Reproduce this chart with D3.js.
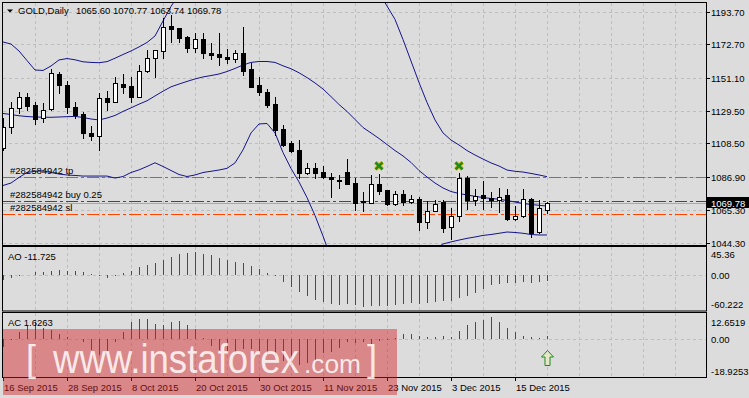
<!DOCTYPE html>
<html lang="en">
<head>
<meta charset="UTF-8">
<title>GOLD,Daily</title>
<script src="https://cdnjs.cloudflare.com/ajax/libs/d3/7.8.5/d3.min.js"></script>
<style>
    * { margin: 0; padding: 0; box-sizing: border-box; }
    body { background: #dcdcdc; width: 749px; height: 398px; overflow: hidden; }
    svg { display: block; }
    text { font-family: "Liberation Sans", Arial, sans-serif; font-size: 9.5px; fill: #000; }
</style>
</head>
<body>
<svg id="chart" width="749" height="398"></svg>
<script>
    // ---- data ----
    const symbol = "GOLD,Daily";
    const opens = [1105.36, 1119.33, 1131.23, 1138.73, 1133.17, 1124.76, 1130.58, 1153.41, 1146.30, 1132.26,
        1127.54, 1115.45, 1113.51, 1137.69, 1135.50, 1146.94, 1145.65, 1138.73, 1155.35, 1163.56,
        1168.48, 1184.46, 1182.97, 1177.54, 1170.42, 1176.05, 1167.19, 1166.15, 1164.21, 1162.91,
        1166.80, 1156.45, 1146.30, 1141.96, 1133.99, 1117.64, 1108.59, 1104.26, 1089.57, 1092.42,
        1090.22, 1086.99, 1084.86, 1090.22, 1083.11, 1071.30, 1070.18, 1082.07, 1078.39, 1069.33,
        1075.80, 1070.82, 1072.37, 1057.89, 1065.00, 1070.63, 1054.26, 1061.76, 1085.95, 1071.92,
        1075.16, 1073.02, 1071.92, 1075.15, 1059.83, 1061.25, 1072.43, 1051.42, 1065.60];
    const highs = [1124.76, 1135.50, 1141.96, 1140.93, 1135.50, 1134.46, 1156.64, 1154.50, 1148.88, 1135.50,
        1128.80, 1119.78, 1141.31, 1142.61, 1151.27, 1153.41, 1151.27, 1159.23, 1168.93, 1169.20,
        1189.43, 1191.57, 1183.20, 1177.80, 1180.12, 1179.73, 1173.27, 1179.73, 1169.38, 1168.93,
        1184.00, 1160.33, 1151.66, 1143.52, 1138.34, 1120.43, 1110.27, 1110.72, 1096.04, 1095.65,
        1093.91, 1089.57, 1088.09, 1098.24, 1085.95, 1077.29, 1088.00, 1088.54, 1078.60, 1077.50,
        1078.40, 1075.15, 1074.05, 1071.27, 1071.92, 1071.92, 1066.55, 1089.57, 1087.44, 1079.03,
        1084.20, 1077.29, 1079.48, 1078.71, 1068.04, 1078.84, 1073.21, 1071.92, 1070.77];
    const lows = [1104.26, 1115.45, 1127.99, 1130.13, 1121.07, 1122.17, 1130.30, 1140.92, 1127.99, 1124.76,
        1111.83, 1110.73, 1104.26, 1130.13, 1135.20, 1140.93, 1135.50, 1138.50, 1154.90, 1151.66,
        1163.56, 1174.30, 1174.30, 1167.83, 1167.83, 1163.56, 1162.91, 1159.23, 1160.33, 1161.36,
        1152.76, 1144.81, 1139.83, 1132.26, 1113.95, 1106.84, 1103.16, 1085.95, 1088.54, 1085.95,
        1085.95, 1074.05, 1079.48, 1082.07, 1065.45, 1064.99, 1069.79, 1075.80, 1068.36, 1068.69,
        1068.69, 1069.79, 1052.51, 1053.61, 1064.90, 1051.22, 1046.50, 1058.34, 1065.90, 1068.69,
        1066.00, 1067.59, 1064.16, 1058.66, 1059.30, 1060.90, 1047.80, 1050.77, 1063.74];
    const closes = [1119.33, 1131.23, 1138.73, 1132.91, 1124.31, 1130.13, 1153.86, 1146.30, 1131.87, 1126.89,
        1115.06, 1113.51, 1137.69, 1135.50, 1147.40, 1145.19, 1138.73, 1155.54, 1163.56, 1168.93,
        1184.00, 1182.51, 1176.89, 1170.42, 1175.85, 1166.80, 1165.70, 1164.21, 1162.91, 1166.80,
        1155.54, 1145.19, 1141.96, 1133.36, 1117.19, 1107.49, 1103.61, 1089.57, 1092.42, 1089.57,
        1086.59, 1085.31, 1084.01, 1082.27, 1070.18, 1070.90, 1082.07, 1077.93, 1069.33, 1075.80,
        1070.82, 1072.37, 1057.50, 1064.81, 1069.14, 1053.61, 1061.76, 1085.95, 1071.92, 1074.50,
        1072.89, 1071.92, 1074.05, 1059.63, 1061.25, 1072.37, 1050.58, 1066.55, 1069.78];

    // Bollinger bands (upper part of the upper band and lower part of the lower band run off the panel)
    const bbUpper = [1174.1, 1172.8, 1168.3, 1162.1, 1156.0, 1155.7, 1158.6, 1162.5, 1163.4, 1162.6,
        1161.3, 1160.9, 1160.7, 1161.4, 1163.6, 1166.0, 1168.3, 1170.9, 1173.8, 1178.0,
        1187.7, 1197.1, 1205.0, 1210.0, 1213.0, 1215.5, 1217.5, 1219.5, 1221.0, 1222.5,
        1224.0, 1225.5, 1227.0, 1228.5, 1230.0, 1231.5, 1233.0, 1234.0, 1235.0, 1235.5,
        1235.5, 1235.0, 1233.5, 1231.0, 1228.0, 1224.0, 1219.0, 1206.0, 1197.4, 1188.7,
        1175.7, 1161.8, 1147.9, 1135.0, 1123.7, 1115.3, 1110.7, 1107.5, 1103.9, 1101.0,
        1098.4, 1095.9, 1093.9, 1091.3, 1090.5, 1090.0, 1089.1, 1088.1, 1087.0];
    const bbMiddle = [1127.9, 1127.2, 1126.4, 1125.9, 1125.6, 1125.5, 1125.4, 1125.6, 1125.8, 1126.0,
        1125.3, 1124.3, 1123.7, 1124.9, 1126.6, 1129.2, 1131.5, 1133.9, 1136.1, 1139.2,
        1142.3, 1145.1, 1146.9, 1148.6, 1150.2, 1151.5, 1152.4, 1153.4, 1155.0, 1157.0,
        1159.2, 1160.9, 1161.5, 1161.5, 1160.9, 1158.7, 1156.8, 1154.2, 1151.1, 1147.6,
        1143.7, 1138.8, 1133.7, 1129.2, 1124.0, 1118.8, 1115.3, 1111.7, 1107.8, 1103.9,
        1100.4, 1096.2, 1091.0, 1086.8, 1082.9, 1079.7, 1077.4, 1076.1, 1075.2, 1074.3,
        1073.5, 1072.9, 1072.4, 1071.6, 1070.6, 1069.7, 1069.0, 1068.5, 1068.0];
    const bbLower = [1081.3, 1082.9, 1086.5, 1089.7, 1090.5, 1090.8, 1089.7, 1088.7, 1088.1, 1087.8,
        1087.4, 1087.4, 1087.4, 1087.4, 1086.1, 1087.1, 1089.7, 1091.4, 1093.6, 1096.0,
        1093.6, 1091.0, 1088.4, 1087.1, 1088.1, 1089.7, 1090.5, 1091.3, 1092.4, 1095.9,
        1104.3, 1115.3, 1121.1, 1121.4, 1115.3, 1102.6, 1092.3, 1083.6, 1073.5, 1061.9,
        1048.6, 1034.4, 1023.4, 1013.7, 1005.3, 998.8, 994.3, 991.1, 990.0, 992.0,
        998.0, 1007.0, 1018.0, 1029.0, 1040.0, 1043.5, 1044.8, 1046.0, 1047.1, 1048.0,
        1049.0, 1049.6, 1050.4, 1051.2, 1050.9, 1050.4, 1049.6, 1049.3, 1049.3];

    const aoValues = [-8.7, -5.7, -2.9, -0.9, 4.0, 5.2, 6.9, 7.3, 6.9, 6.5,
        4.7, 1.2, -2.9, -5.2, -1.5, 2.2, 6.9, 13.8, 17.3, 20.8,
        26.0, 31.1, 36.3, 38.1, 39.8, 36.3, 34.6, 29.4, 26.0, 22.5,
        20.8, 15.6, 10.4, 3.5, -2.9, -13.3, -22.0, -30.6, -37.5, -44.5,
        -47.9, -51.4, -51.6, -51.0, -53.1, -56.6, -54.8, -54.2, -54.9, -53.1,
        -51.4, -49.7, -50.0, -49.0, -47.2, -46.2, -46.0, -41.0, -36.3, -32.4,
        -25.4, -18.5, -16.8, -15.1, -14.8, -13.3, -13.5, -13.0, -11.725];
    const aoBefore = -8.2;
    const acValues = [-4.1, -0.5, 3.4, 6.5, 8.5, 5.6, 4.4, 2.7, 1.0, -0.2,
        -1.7, -5.5, -8.0, -6.3, -1.7, 3.7, 8.5, 10.2, 10.0, 7.8,
        7.3, 8.8, 9.3, 6.8, 4.8, 0.3, -3.7, -5.8, -6.8, -7.1,
        -5.4, -5.1, -6.8, -8.0, -8.8, -11.5, -13.8, -13.2, -12.5, -11.5,
        -7.0, -6.6, -4.9, -1.5, -2.0, -1.8, -2.5, -1.0, -0.7, 0.5,
        2.7, 2.6, 1.4, 0.7, 1.0, 1.7, 1.0, 4.2, 7.3, 8.5,
        9.8, 11.2, 8.5, 5.3, 3.4, 1.7, 0.7, 0.2, 1.6263];
    const acBefore = -5.0;

    const priceTicks = [1193.70, 1172.70, 1151.10, 1129.50, 1108.50, 1086.90, 1065.30, 1044.30];
    const aoTicks = [45.36, 0, -60.222];
    const acTicks = [12.6519, 0, -18.9253];
    const labelEvery = 8;

    const orders = [
        { text: "#282584942 tp", price: 1087.0, color: "#ff4500" },
        { text: "#282584942 buy 0.25", price: 1071.0, color: "#007a00" },
        { text: "#282584942 sl", price: 1062.7, color: "#ff4500" }
    ];
    const closeMarks = [{ bar: 47, price: 1094.0 }, { bar: 57, price: 1094.0 }];
    const acSignal = { bar: 68, value: -5.7 };

    // trading days, weekends skipped
    const tradingDays = d3.timeDay.range(new Date(2015, 8, 16), new Date(2015, 11, 22))
        .filter(d => d.getDay() !== 0 && d.getDay() !== 6);
    const fmtDate = d3.timeFormat("%-d %b %Y");

    // ---- layout ----
    const plotL = 3, plotR = 706;
    const main = { top: 3, bottom: 245 };
    const aoP = { top: 247, bottom: 310.5 };
    const acP = { top: 313, bottom: 377 };

    const svg = d3.select('#chart');

    const x = d3.scaleLinear().domain([0, opens.length - 1]).range([3, 3 + 8 * (opens.length - 1)]);
    const y = d3.scaleLinear().domain([1044.30, 1193.70]).range([242.7, 11.7]);
    const yAO = d3.scaleLinear().domain([-60.222, 45.36]).range([309.5, 248.5]);
    const yAC = d3.scaleLinear().domain([-18.9253, 12.6519]).range([376, 314]);

    const px = i => Math.round(x(i));
    const crisp = v => Math.round(v) + 0.5;

    // clip paths
    const defs = svg.append('defs');
    [['clipMain', main], ['clipAO', aoP], ['clipAC', acP]].forEach(([id, p]) => {
        defs.append('clipPath').attr('id', id).append('rect')
            .attr('x', plotL).attr('y', p.top).attr('width', plotR - plotL).attr('height', p.bottom - p.top);
    });

    // vertical grid in every panel
    const gridXs = d3.range(32, plotR - plotL, 32).map(d => plotL + d);
    [main, aoP, acP].forEach(p => {
        svg.append('g').selectAll('line').data(gridXs).join('line')
            .attr('x1', d => d + 0.5).attr('x2', d => d + 0.5)
            .attr('y1', p.top).attr('y2', p.bottom)
            .attr('stroke', '#bdbdbd').attr('stroke-dasharray', '3,3');
    });

    // horizontal grid, main
    svg.append('g').selectAll('line').data(priceTicks).join('line')
        .attr('x1', plotL).attr('x2', plotR)
        .attr('y1', d => crisp(y(d))).attr('y2', d => crisp(y(d)))
        .attr('stroke', '#bdbdbd').attr('stroke-dasharray', '3,3');
    // zero lines
    [[yAO, 0], [yAC, 0]].forEach(([s, v]) => {
        svg.append('line').attr('x1', plotL).attr('x2', plotR)
            .attr('y1', crisp(s(v))).attr('y2', crisp(s(v)))
            .attr('stroke', '#bdbdbd').attr('stroke-dasharray', '3,3');
    });

    // ---- main panel ----
    const gMain = svg.append('g').attr('clip-path', 'url(#clipMain)');

    // bid line
    gMain.append('line').attr('x1', plotL).attr('x2', plotR)
        .attr('y1', crisp(y(closes[closes.length - 1]))).attr('y2', crisp(y(closes[closes.length - 1])))
        .attr('stroke', '#a8a8a8');

    // order lines
    gMain.selectAll('.order').data(orders).join('line').attr('class', 'order')
        .attr('x1', plotL).attr('x2', plotR)
        .attr('y1', d => crisp(y(d.price))).attr('y2', d => crisp(y(d.price)))
        .attr('stroke', d => d.color).attr('stroke-width', 1.2)
        .attr('stroke-dasharray', '12,3,3,3');

    // bollinger bands
    const band = d3.line().x((d, i) => x(i)).y(d => y(d));
    [bbUpper, bbMiddle, bbLower].forEach(b => {
        gMain.append('path').datum(b).attr('d', band)
            .attr('fill', 'none').attr('stroke', '#14148c').attr('stroke-width', 1);
    });

    // candles
    const candles = gMain.append('g').selectAll('g').data(opens.map((o, i) => ({
        i, o, h: highs[i], l: lows[i], c: closes[i]
    }))).join('g');

    candles.append('line')
        .attr('x1', d => px(d.i) + 0.5).attr('x2', d => px(d.i) + 0.5)
        .attr('y1', d => Math.round(y(d.h))).attr('y2', d => Math.round(y(d.l)) + 1)
        .attr('stroke', '#000');

    candles.append('rect')
        .each(function (d) {
            const top = Math.round(y(Math.max(d.o, d.c)));
            const bot = Math.round(y(Math.min(d.o, d.c)));
            const h = Math.max(1, bot - top);
            const sel = d3.select(this);
            if (d.c > d.o) {
                sel.attr('x', px(d.i) - 1.5).attr('y', top + 0.5)
                    .attr('width', 4).attr('height', Math.max(1, h))
                    .attr('fill', '#fff').attr('stroke', '#000');
            } else {
                sel.attr('x', px(d.i) - 2).attr('y', top)
                    .attr('width', 5).attr('height', Math.max(1, h + 1))
                    .attr('fill', '#000');
            }
        });

    // close marks
    const marks = gMain.selectAll('.mark').data(closeMarks).join('g').attr('class', 'mark')
        .attr('transform', d => `translate(${x(d.bar)},${y(d.price)})`);
    ['#c9b000', '#1d8a1d'].forEach((col, k) => {
        marks.append('path').attr('d', 'M-3.5,-3.5L3.5,3.5M3.5,-3.5L-3.5,3.5')
            .attr('stroke', col).attr('stroke-width', k ? 2.2 : 4).attr('fill', 'none');
    });

    // order labels
    svg.append('g').selectAll('text').data(orders).join('text')
        .attr('x', 10).attr('y', d => Math.round(y(d.price)) - 3)
        .attr('fill', '#1a1a1a')
        .text(d => d.text);

    // header
    svg.append('path').attr('d', 'M7,9.5L13,9.5L10,12.5Z').attr('fill', '#000');
    svg.append('text').attr('x', 18).attr('y', 14).text(symbol);
    const last = opens.length - 1;
    svg.append('text').attr('x', 76).attr('y', 14)
        .text([opens[last], highs[last], lows[last], closes[last]].map(v => v.toFixed(2)).join(' '));

    // ---- histograms ----
    function histogram(clipId, values, before, scale) {
        svg.append('g').attr('clip-path', `url(#${clipId})`)
            .selectAll('line').data(values).join('line')
            .attr('x1', (d, i) => px(i) + 0.5).attr('x2', (d, i) => px(i) + 0.5)
            .attr('y1', Math.round(scale(0))).attr('y2', d => Math.round(scale(d)))
            .attr('stroke', (d, i) => d > (i ? values[i - 1] : before) ? '#008000' : '#ff0000')
            .attr('stroke-width', 1);
    }
    histogram('clipAO', aoValues, aoBefore, yAO);
    histogram('clipAC', acValues, acBefore, yAC);

    svg.append('text').attr('x', 8).attr('y', 259.5).text('AO ' + aoValues[last]);
    svg.append('text').attr('x', 8).attr('y', 326).text('AC ' + acValues[last]);

    // AC signal arrow (hollow)
    const ax = px(acSignal.bar) + 0.5, ay = Math.round(yAC(acSignal.value)) + 0.5;
    svg.append('path')
        .attr('d', `M${ax},${ay}L${ax + 6},${ay + 6.5}L${ax + 2.5},${ay + 6.5}L${ax + 2.5},${ay + 15}L${ax - 2.5},${ay + 15}L${ax - 2.5},${ay + 6.5}L${ax - 6},${ay + 6.5}Z`)
        .attr('fill', '#e6e6c8').attr('stroke', '#1d8a1d').attr('stroke-width', 1);

    // ---- frames ----
    [main, aoP, acP].forEach(p => {
        svg.append('rect').attr('x', plotL - 0.5).attr('y', p.top - 0.5)
            .attr('width', plotR - plotL + 1).attr('height', p.bottom - p.top + 1)
            .attr('fill', 'none').attr('stroke', '#000');
    });

    // ---- right axes ----
    function rightAxis(ticks, scale, fmt) {
        const g = svg.append('g');
        g.selectAll('line').data(ticks).join('line')
            .attr('x1', plotR + 0.5).attr('x2', plotR + 4)
            .attr('y1', d => crisp(scale(d))).attr('y2', d => crisp(scale(d)))
            .attr('stroke', '#000');
        g.selectAll('text').data(ticks).join('text')
            .attr('x', 711).attr('y', d => Math.round(scale(d)) + 4)
            .text(fmt);
    }
    rightAxis(priceTicks, y, d => d.toFixed(2));
    svg.append('text').attr('x', 711).attr('y', 258).text(aoTicks[0]);
    svg.append('text').attr('x', 711).attr('y', Math.round(yAO(0)) + 4).text('0.00');
    svg.append('text').attr('x', 711).attr('y', 307.5).text(aoTicks[2]);
    svg.append('text').attr('x', 711).attr('y', 325.5).text(acTicks[0]);
    svg.append('text').attr('x', 711).attr('y', Math.round(yAC(0)) + 4).text('0.00');
    svg.append('text').attr('x', 711).attr('y', 374.5).text(acTicks[2]);

    // current price box
    const cy = y(closes[last]);
    svg.append('rect').attr('x', 707).attr('y', Math.round(cy) - 6).attr('width', 42).attr('height', 11)
        .attr('fill', '#000');
    svg.append('text').attr('x', 711).attr('y', Math.round(cy) + 3.5).attr('fill', '#fff')
        .style('fill', '#fff').text(closes[last].toFixed(2));

    // ---- date axis ----
    const dateIdx = d3.range(0, tradingDays.length, labelEvery);
    const gDates = svg.append('g');
    gDates.selectAll('line').data(dateIdx).join('line')
        .attr('x1', i => px(i) + 0.5).attr('x2', i => px(i) + 0.5)
        .attr('y1', acP.bottom).attr('y2', acP.bottom + 4)
        .attr('stroke', '#000');
    gDates.selectAll('text').data(dateIdx).join('text')
        .attr('x', i => px(i) + 1).attr('y', 391)
        .text(i => fmtDate(tradingDays[i]));

    // ---- watermark ----
    const wm = svg.append('g');
    wm.append('rect').attr('x', 3).attr('y', 329).attr('width', 394).attr('height', 66)
        .attr('fill', 'rgb(212,30,36)').attr('opacity', 0.45);
    const wmStyle = s => s.style('fill', '#fff').attr('opacity', 0.82);
    wm.append('text').attr('x', 26).attr('y', 371).style('font-size', '36px').call(wmStyle).text('[');
    wm.append('text').attr('x', 53).attr('y', 373).style('font-size', '40px')
        .attr('textLength', 246).attr('lengthAdjust', 'spacingAndGlyphs').call(wmStyle).text('www.instaforex');
    wm.append('text').attr('x', 304).attr('y', 373).style('font-size', '26px')
        .attr('textLength', 57).attr('lengthAdjust', 'spacingAndGlyphs').call(wmStyle).text('.com');
    wm.append('text').attr('x', 367).attr('y', 371).style('font-size', '36px').call(wmStyle).text(']');
</script>
</body>
</html>
